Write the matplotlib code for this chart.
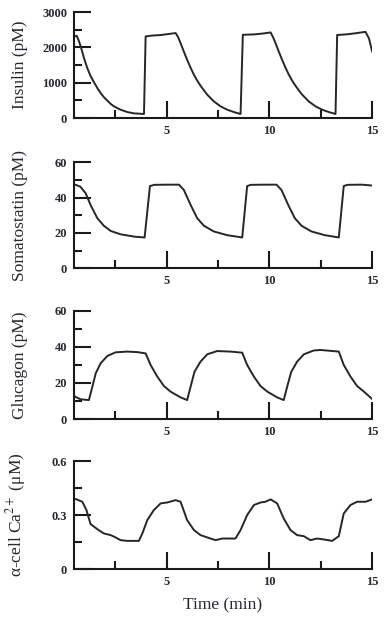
import numpy as np
import matplotlib.pyplot as plt
from matplotlib.ticker import MultipleLocator

# values
t_ins = [0.5, 0.62, 0.72, 0.82, 0.98, 1.14, 1.3, 1.47, 1.63, 1.79, 1.95, 2.12,
         2.28, 2.44, 2.76, 3.09, 3.41, 3.9,
         3.98, 4.22, 4.71, 5.19, 5.44, 5.56, 5.68, 5.84, 6.0, 6.17, 6.33, 6.49,
         6.65, 6.82, 6.98, 7.3, 7.63, 7.95, 8.27, 8.6,
         8.71, 9.25, 9.73, 10.06, 10.18, 10.3, 10.46, 10.62, 10.79, 10.95,
         11.11, 11.27, 11.44, 11.6, 11.92, 12.25, 12.57, 12.89, 13.22,
         13.3, 13.78, 14.2, 14.68, 14.85, 15.0]
insulin = [2300, 2330, 2200, 2030, 1700, 1415, 1190, 1010, 850, 707, 590, 490,
           400, 330, 236, 170, 132, 115,
           2310, 2330, 2350, 2386, 2405, 2290, 2120, 1880, 1650, 1420, 1226, 1060,
           915, 780, 660, 470, 330, 236, 170, 115,
           2357, 2367, 2395, 2423, 2290, 2120, 1880, 1650, 1420, 1226,
           1060, 915, 780, 660, 470, 330, 236, 170, 115,
           2350, 2370, 2400, 2440, 2250, 1886]

t_som = [0.5, 0.8, 1.06, 1.3, 1.63, 1.95, 2.28, 2.76, 3.41, 3.93, 4.19, 4.4,
         5.0, 5.6, 5.84, 6.17, 6.49, 6.82, 7.3, 7.95, 8.68, 8.92, 9.1, 9.8,
         10.35, 10.59, 10.92, 11.24, 11.57, 12.05, 12.7, 13.38, 13.62, 13.8,
         14.5, 15.0]
somatostatin = [47.5, 46.2, 42.5, 35.8, 28.3, 24.0, 21.1, 19.2, 17.9, 17.4, 46.5,
                47.2, 47.3, 47.3, 44.3, 35.8, 28.3, 24.0, 20.8, 18.7, 17.4, 46.5,
                47.2, 47.3, 47.3, 44.3, 35.8, 28.3, 24.0, 20.8, 18.7, 17.4, 46.5,
                47.2, 47.3, 46.8]

t_glu = [0.5, 0.58, 0.82, 1.22, 1.39, 1.55, 1.79, 2.12, 2.52, 3.09, 3.58, 3.98,
         4.22, 4.55, 4.87, 5.19, 5.68, 6.0, 6.17, 6.36, 6.65, 6.98, 7.46, 8.11,
         8.68, 8.92, 9.25, 9.57, 9.9, 10.38, 10.7, 10.87, 11.06, 11.35, 11.68,
         12.16, 12.49, 13.38, 13.62, 13.95, 14.27, 14.6, 15.0]
glucagon = [12.8, 12.2, 10.9, 10.5, 18.0, 25.3, 30.9, 35.0, 37.0, 37.4, 37.1, 36.4,
            30.0, 23.5, 18.3, 15.2, 12.0, 10.5, 18.0, 26.3, 31.8, 35.9, 37.7, 37.4,
            36.8, 30.0, 23.5, 18.3, 15.2, 12.0, 10.5, 18.0, 26.0, 31.8, 35.9,
            38.0, 38.3, 37.4, 30.0, 23.5, 18.3, 15.2, 11.1]

t_ca = [0.5, 0.58, 0.9, 1.1, 1.3, 1.63, 1.95, 2.28, 2.52, 2.76, 3.09, 3.65, 3.82,
        4.06, 4.38, 4.71, 5.03, 5.44, 5.68, 6.0, 6.33, 6.65, 7.14, 7.38, 7.71,
        8.35, 8.6, 8.92, 9.25, 9.57, 9.81, 10.06, 10.38, 10.7, 11.03, 11.35,
        11.68, 12.0, 12.33, 12.65, 13.06, 13.38, 13.62, 13.95, 14.27, 14.68, 15.0]
calcium = [0.39, 0.389, 0.374, 0.328, 0.25, 0.222, 0.198, 0.189, 0.176, 0.161,
           0.157, 0.157, 0.198, 0.272, 0.328, 0.365, 0.37, 0.383, 0.374, 0.272,
           0.217, 0.189, 0.17, 0.161, 0.17, 0.17, 0.217, 0.3, 0.356, 0.37,
           0.374, 0.387, 0.365, 0.281, 0.217, 0.189, 0.183, 0.161, 0.17, 0.165,
           0.157, 0.183, 0.309, 0.356, 0.374, 0.374, 0.387]

panels = [
    (t_ins, insulin, 'Insulin (pM)', 3000, 500, [0, 1000, 2000, 3000]),
    (t_som, somatostatin, 'Somatostatin (pM)', 60, 10, [0, 20, 40, 60]),
    (t_glu, glucagon, 'Glucagon (pM)', 60, 10, [0, 20, 40, 60]),
    (t_ca, calcium, 'α-cell Ca$^{2+}$ (μM)', 0.6, 0.15, [0, 0.3, 0.6]),
]

plt.rcParams['font.family'] = ['Liberation Serif', 'DejaVu Serif']
plt.rcParams['mathtext.fontset'] = 'stix'
txt = '#2a2630'

fig = plt.figure(figsize=(3.84, 6.18), dpi=100)
bottoms = [0.809, 0.566, 0.322, 0.079]
heights = [0.1715, 0.1715, 0.175, 0.175]

for (t, v, lab, ymax, mnr, yt), b, h in zip(panels, bottoms, heights):
    ax = fig.add_axes([0.193, b, 0.776, h])
    ax.plot(t, v, color='#262626', lw=1.4)
    ax.set_xlim(0.5, 15)
    ax.set_ylim(0, ymax)
    for s in ['top', 'right']:
        ax.spines[s].set_visible(False)
    for s in ['left', 'bottom']:
        ax.spines[s].set_linewidth(1.5)
        ax.spines[s].set_color('#1a1a1a')
    ax.set_xticks([5, 10, 15])
    ax.set_xticklabels(['5', '10', '15'], fontweight='bold')
    ax.xaxis.set_minor_locator(MultipleLocator(2.5))
    ax.set_yticks(yt)
    ax.set_yticklabels([('%g' % y) for y in yt], fontweight='bold')
    ax.yaxis.set_minor_locator(MultipleLocator(mnr))
    ax.tick_params(which='major', direction='in', length=12, width=1.5,
                   labelsize=9, colors='#1a1a1a', labelcolor=txt, pad=5)
    ax.tick_params(which='minor', direction='in', length=6, width=1.5,
                   colors='#1a1a1a')
    ax.set_ylabel(lab, fontsize=12.5, color=txt)
    ax.yaxis.set_label_coords(-0.155, 0.5)

fig.text(0.58, 0.021, 'Time (min)', ha='center', va='center', fontsize=12.5,
         color=txt)

fig.savefig('out.png', dpi=100)
